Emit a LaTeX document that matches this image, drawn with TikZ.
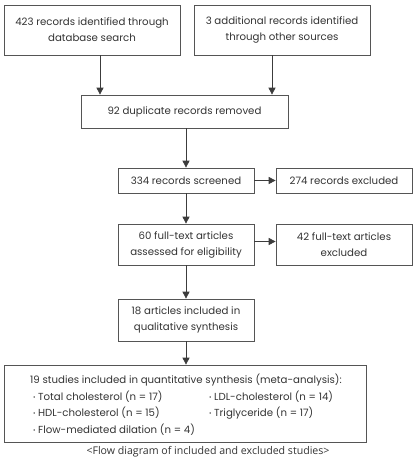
\documentclass[tikz,border=0pt]{standalone}
\usepackage{fontspec}
\setmainfont{Poppins}
\newfontfamily\capfont{Open Sans}
\usetikzlibrary{arrows.meta}
\definecolor{ln}{HTML}{555555}
\definecolor{tx}{HTML}{333333}
\newcommand{\bul}{{\fontsize{6}{6}\selectfont\raisebox{0.6pt}{•}}\hspace{2.5pt}}
\tikzset{
  boxnode/.style={draw=ln, line width=0.7pt, text=tx, align=center, inner sep=0pt, font=\fontsize{10.2}{16}\selectfont},
  arr/.style={draw=ln!70!black, line width=0.7pt, -{Triangle[length=7pt,width=7pt]}},
  txt/.style={text=tx, inner sep=0pt, anchor=base west, font=\fontsize{10.2}{16}\selectfont}
}
\begin{document}
\begin{tikzpicture}[x=1pt,y=-1pt]
\useasboundingbox (0,0) rectangle (416,460);
\node[boxnode, minimum width=176pt, minimum height=50pt] (db) at (92,30) {423 records identified through\\database search};
\node[boxnode, minimum width=176pt, minimum height=50pt] (other) at (282,30) {3 additional records identified\\through other sources};
\node[boxnode, minimum width=207pt, minimum height=33pt] (dup) at (184.5,111.5) {92 duplicate records removed};
\node[boxnode, minimum width=136pt, minimum height=25pt] (scr) at (186,180.5) {334 records screened};
\node[boxnode, minimum width=136pt, minimum height=25pt] (exc) at (344,180.5) {274 records excluded};
\node[boxnode, minimum width=136pt, minimum height=41pt] (full) at (186,244.5) {60 full-text articles\\assessed for eligibility};
\node[boxnode, minimum width=136pt, minimum height=41pt] (fexc) at (344,244.5) {42 full-text articles\\excluded};
\node[boxnode, minimum width=136pt, minimum height=42pt] (qual) at (186,320) {18 articles included in\\qualitative synthesis};
\node[boxnode, minimum width=362pt, minimum height=77pt] (quant) at (185,403.5) {};
\node[txt] (t0) at (30,383) {19 studies included in quantitative synthesis (meta-analysis):};
\node[txt] (t1) at (33,400) {\bul Total cholesterol (n = 17)};
\node[txt] (t2) at (209,400) {\bul LDL-cholesterol (n = 14)};
\node[txt] (t3) at (33,416.5) {\bul HDL-cholesterol (n = 15)};
\node[txt] (t4) at (209,416.5) {\bul Triglyceride (n = 17)};
\node[txt] (t5) at (33,433) {\bul Flow-mediated dilation (n = 4)};
\node[text=tx, inner sep=0pt, font=\capfont\fontsize{10.6}{12}\selectfont] (cap) at (208,452) {<Flow diagram of included and excluded studies>};
\draw[arr] (db.south -| 100,0) -- (dup.north -| 100,0);
\draw[arr] (other.south -| 272,0) -- (dup.north -| 272,0);
\draw[arr] (dup.south -| scr.north) -- (scr.north);
\draw[arr] (scr.east) -- (exc.west);
\draw[arr] (scr.south) -- (full.north);
\draw[arr] ([yshift=3pt]full.east) -- ([yshift=3pt]full.east -| fexc.west);
\draw[arr] (full.south) -- (qual.north);
\draw[arr] (qual.south) -- (quant.north -| qual.south);
\end{tikzpicture}
\end{document}
